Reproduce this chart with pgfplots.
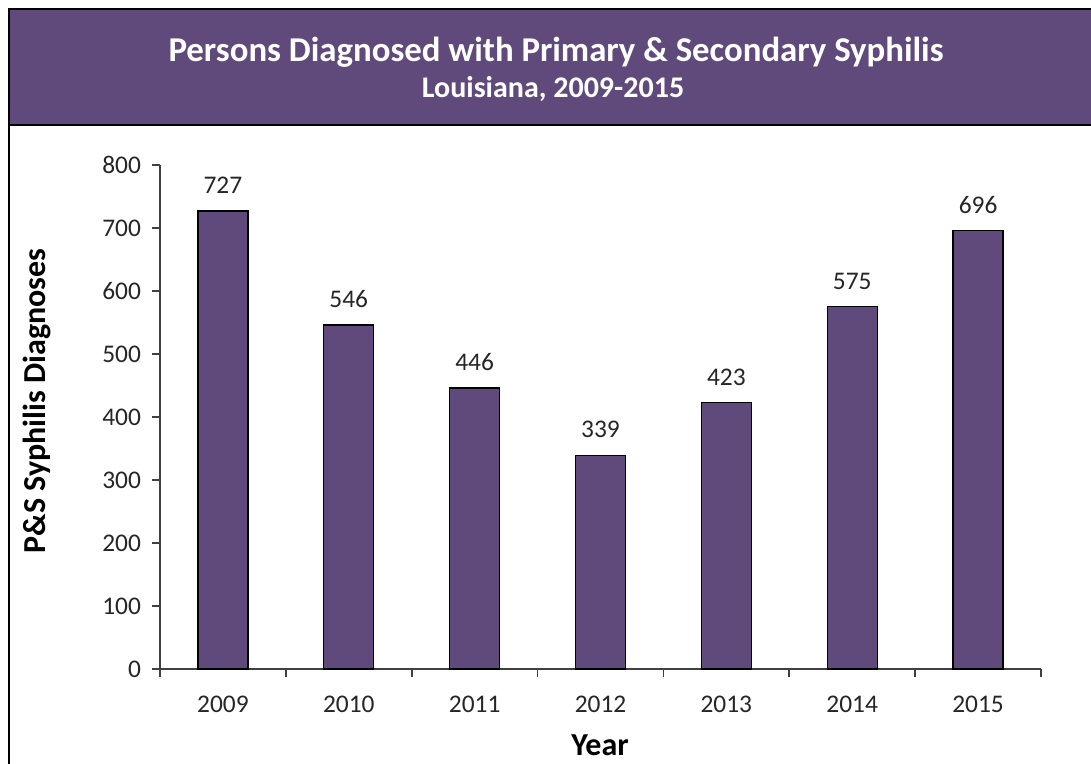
\documentclass[border=0pt]{standalone}
\usepackage{pgfplots}
\pgfplotsset{compat=1.18}
\usepackage{fontspec}
\setmainfont{Carlito}
\definecolor{barpurple}{HTML}{604A7B}
\definecolor{txt}{HTML}{262626}
\definecolor{axgray}{HTML}{404040}
\begin{document}
\begin{tikzpicture}[x=0.5pt,y=0.5pt]
\useasboundingbox (-160,-95) rectangle (931,669);
\fill[white] (-160,-95) rectangle (931,669);
\draw[black, line width=1.2pt] (-151,660) rectangle (940,-111);
\filldraw[fill=barpurple, draw=black, line width=1.2pt] (-151,660) rectangle (940,544);
\node[text=white, font=\fontsize{17.4}{20}\selectfont\bfseries, anchor=base] at (396,607) {Persons Diagnosed with Primary \& Secondary Syphilis};
\node[text=white, font=\fontsize{15}{18}\selectfont\bfseries, anchor=base] at (393,571) {Louisiana, 2009-2015};
\node[text=black, rotate=90, font=\fontsize{16}{18}\selectfont\bfseries] at (-123,268) {P\&S Syphilis Diagnoses};
\node[text=black, font=\fontsize{16}{18}\selectfont\bfseries] at (440,-76) {Year};
\begin{axis}[
  anchor=south west,
  scale only axis, width=440.5pt, height=252pt,
  xmin=-0.5, xmax=6.5, ymin=0, ymax=800,
  axis lines*=left,
  axis line style={draw=axgray, line width=0.8pt},
  xtick={0,...,6},
  xticklabels={2009,2010,2011,2012,2013,2014,2015},
  minor xtick={-0.5,0.5,...,6.5},
  major x tick style={draw=none},
  minor x tick style={draw=axgray, line width=0.8pt},
  ytick={0,100,...,800},
  y tick style={draw=axgray, line width=0.8pt},
  tick align=outside,
  major tick length=4pt, minor tick length=4pt,
  xticklabel style={yshift=-6pt},
  ticklabel style={font=\fontsize{12.7}{14}\selectfont, text=txt},
  /pgf/number format/assume math mode=true,
  yticklabel style={xshift=-2pt},
  clip=false,
]
\addplot[ybar, bar width=25pt, fill=barpurple, draw=black, line width=0.6pt,
  nodes near coords, every node near coord/.append style={font=\fontsize{12.7}{14}\selectfont, text=txt, yshift=5pt}]
  coordinates {(0,727) (1,546) (2,446) (3,339) (4,423) (5,575) (6,696)};
\end{axis}
\end{tikzpicture}
\end{document}
